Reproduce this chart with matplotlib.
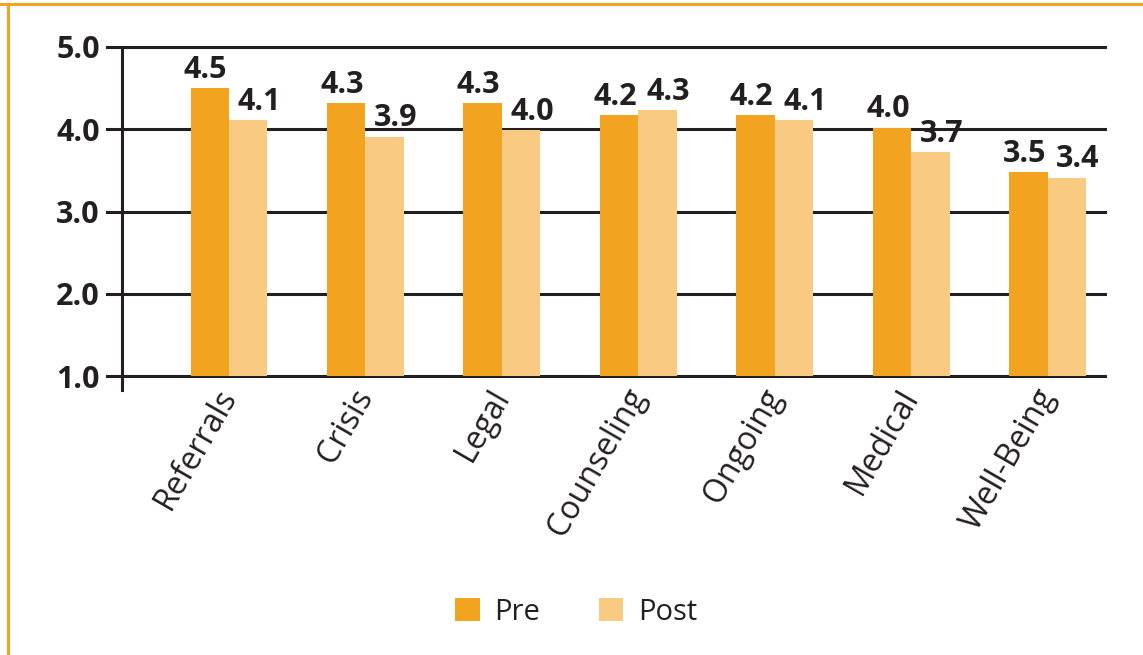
import matplotlib.pyplot as plt
import matplotlib.transforms as mtransforms
import numpy as np

categories = ["Referrals", "Crisis", "Legal", "Counseling", "Ongoing", "Medical", "Well-Being"]
pre = [4.50, 4.32, 4.32, 4.17, 4.17, 4.02, 3.48]
post = [4.11, 3.91, 3.99, 4.23, 4.11, 3.72, 3.41]
pre_labels = ["4.5", "4.3", "4.3", "4.2", "4.2", "4.0", "3.5"]
post_labels = ["4.1", "3.9", "4.0", "4.3", "4.1", "3.7", "3.4"]
yticks = [1.0, 2.0, 3.0, 4.0, 5.0]

orange = "#F2A31F"
light = "#F9CB82"
dark = "#231F20"

plt.rcParams['font.family'] = ['Open Sans', 'DejaVu Sans']

fig = plt.figure(figsize=(11.43, 6.55), dpi=100)
ax = fig.add_axes([122 / 1143, 1 - 376 / 655, 983 / 1143, 329 / 655])

x = np.arange(len(categories))
w = 0.282
base = 1.0
ax.bar(x - w / 2, [v - base for v in pre], w, bottom=base, color=orange, zorder=3, label="Pre")
ax.bar(x + w / 2, [v - base for v in post], w, bottom=base, color=light, zorder=3, label="Post")

for i in range(len(categories)):
    ax.text(x[i] - w / 2 - 0.03, pre[i] + 0.04, pre_labels[i], ha='center', va='bottom',
            fontsize=22, fontweight='bold', color=dark)
    ax.text(x[i] + w / 2 + 0.08, post[i] + 0.04, post_labels[i], ha='center', va='bottom',
            fontsize=22, fontweight='bold', color=dark)

ax.set_xlim(-0.784, 6.418)
ax.set_ylim(1.0, 5.0)

# gridlines with outward tick stubs
for y in yticks:
    ax.axhline(y, xmin=-15 / 983, xmax=1, color=dark, lw=2.2, clip_on=False, zorder=1)
ax.plot([0, 0], [-14 / 329, 1], transform=ax.transAxes, color=dark, lw=2.2,
        clip_on=False, zorder=4)

for s in ax.spines.values():
    s.set_visible(False)
ax.tick_params(axis='both', length=0)
ax.set_yticks(yticks)
ax.set_yticklabels([f"{v:.1f}" for v in yticks], fontsize=22, fontweight='bold', color=dark)
ax.tick_params(axis='y', pad=16)
ax.set_xticks(x)
ax.set_xticklabels(categories, rotation=60, ha='right', rotation_mode='anchor',
                   fontsize=23, color=dark)
ax.tick_params(axis='x', pad=5)
shift = mtransforms.ScaledTranslation(-14 / 100, 0, fig.dpi_scale_trans)
for lbl in ax.get_xticklabels():
    lbl.set_transform(lbl.get_transform() + shift)

ax.legend(loc='center', bbox_to_anchor=(576 / 1143, 1 - 612 / 655),
          bbox_transform=fig.transFigure, ncol=2, frameon=False, fontsize=21,
          handlelength=0.85, handleheight=0.85, columnspacing=2.0, handletextpad=0.5,
          labelcolor=dark)

# orange frame: top and left edges
fig.add_artist(plt.Line2D([0, 1], [1 - 4 / 655] * 2, color=orange, lw=2.2, transform=fig.transFigure))
fig.add_artist(plt.Line2D([8 / 1143] * 2, [0, 1 - 4 / 655], color=orange, lw=2.2, transform=fig.transFigure))

fig.savefig("out.png", dpi=100)
